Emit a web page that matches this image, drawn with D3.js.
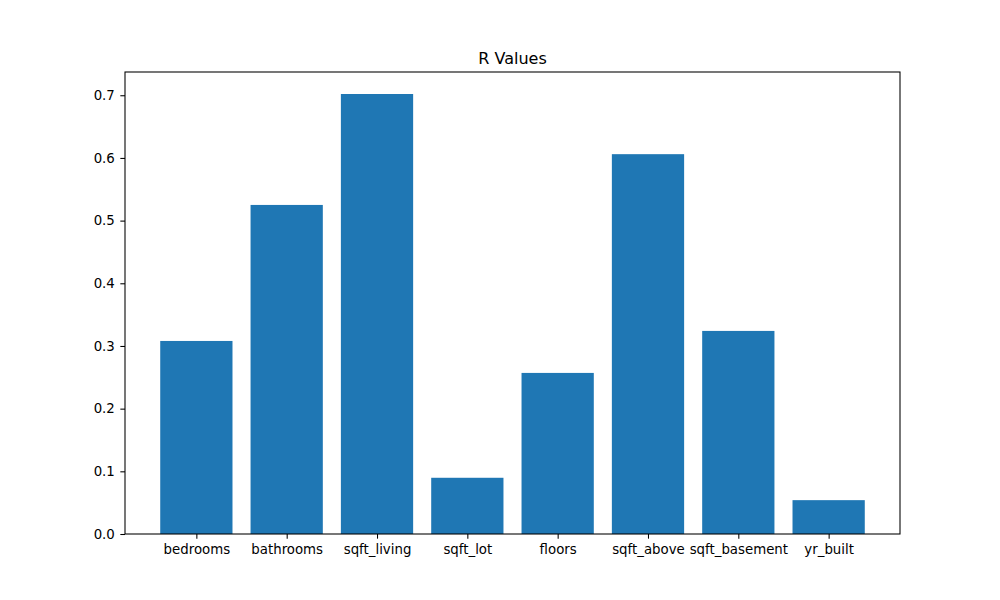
<!DOCTYPE html>
<html><head><meta charset="utf-8">
<script src="https://cdn.jsdelivr.net/npm/d3@7"></script>
<style>body{margin:0;background:#fff}svg{display:block}text{font-family:"DejaVu Sans",sans-serif}</style>
</head><body>
<script>
const categories = ["bedrooms","bathrooms","sqft_living","sqft_lot","floors","sqft_above","sqft_basement","yr_built"];
const rValues = [0.308, 0.525, 0.702, 0.0897, 0.257, 0.606, 0.324, 0.054];
const yTicks = [0.0, 0.1, 0.2, 0.3, 0.4, 0.5, 0.6, 0.7];
const title = "R Values";

const W = 1000, H = 600;
const L = 125, R = 900, T = 72, B = 534;
const svg = d3.select("body").append("svg").attr("width", W).attr("height", H);

const n = categories.length;
const span = (n - 1 + 0.4) - (-0.4);
const x = d3.scaleLinear().domain([-0.4 - 0.05 * span, n - 1 + 0.4 + 0.05 * span]).range([L, R]);
const ymax = d3.max(rValues) * 1.05;
const y = d3.scaleLinear().domain([0, ymax]).range([B, T]);

svg.append("g").selectAll("rect").data(rValues).join("rect")
  .attr("x", (d, i) => x(i - 0.4)).attr("width", (d, i) => x(i + 0.4) - x(i - 0.4))
  .attr("y", d => y(d)).attr("height", d => y(0) - y(d))
  .attr("fill", "#1f77b4");

const xAxis = d3.axisBottom(x).tickValues(d3.range(n)).tickFormat(i => categories[i]).tickSize(4.67).tickPadding(6.2);
const gx = svg.append("g").attr("transform", `translate(0,${B})`).call(xAxis);
gx.select(".domain").remove();
gx.selectAll("line").attr("stroke", "#000").attr("stroke-width", 1.07);
gx.selectAll("text").attr("font-size", 13.33).attr("fill", "#000").attr("font-family", "DejaVu Sans");

const yAxis = d3.axisLeft(y).tickValues(yTicks).tickFormat(d3.format(".1f")).tickSize(4.67).tickPadding(5.5);
const gy = svg.append("g").attr("transform", `translate(${L},0)`).call(yAxis);
gy.select(".domain").remove();
gy.selectAll("line").attr("stroke", "#000").attr("stroke-width", 1.07);
gy.selectAll("text").attr("font-size", 13.33).attr("fill", "#000").attr("font-family", "DejaVu Sans");

svg.append("rect").attr("x", L).attr("y", T).attr("width", R - L).attr("height", B - T)
  .attr("fill", "none").attr("stroke", "#000").attr("stroke-width", 1.07);

svg.append("text").attr("x", (L + R) / 2).attr("y", T - 8).attr("text-anchor", "middle")
  .attr("font-size", 16).attr("fill", "#000").text(title);
</script>
</body></html>
